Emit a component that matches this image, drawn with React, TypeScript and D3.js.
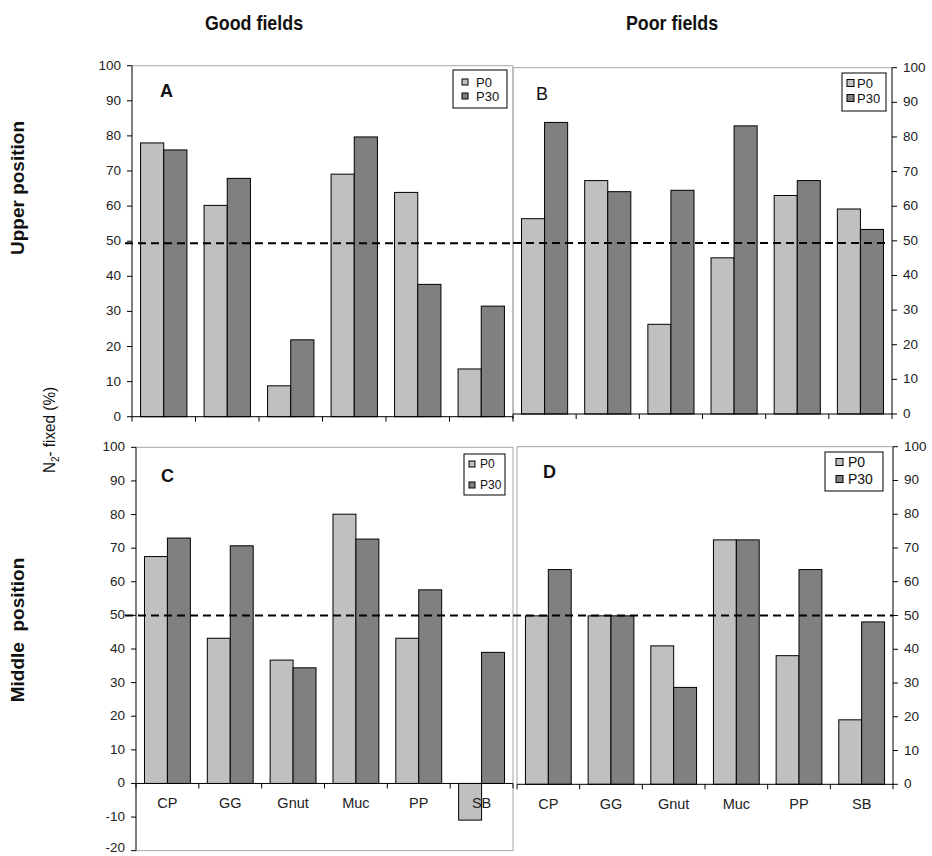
import React from "react";
import * as d3 from "d3";

const categories = ["CP", "GG", "Gnut", "Muc", "PP", "SB"];
const seriesNames = ["P0", "P30"];

const aP0 = [78, 60.2, 8.8, 69.1, 63.9, 13.6];
const aP30 = [76, 67.9, 21.9, 79.7, 37.7, 31.5];
const bP0 = [56.4, 67.4, 25.9, 45.1, 63.1, 59.2];
const bP30 = [84.2, 64.2, 64.6, 83.2, 67.4, 53.3];
const cP0 = [67.5, 43.2, 36.7, 80.1, 43.2, -10.9];
const cP30 = [73, 70.7, 34.4, 72.7, 57.6, 39];
const dP0 = [49.9, 49.9, 41, 72.4, 38.1, 19.1];
const dP30 = [63.6, 49.9, 28.7, 72.4, 63.6, 48.1];

const ticksPositive = [0, 10, 20, 30, 40, 50, 60, 70, 80, 90, 100];
const ticksWithNegative = [-20, -10, 0, 10, 20, 30, 40, 50, 60, 70, 80, 90, 100];
const thresholdUpper = 49.4;
const thresholdMiddle = 50;

const columnTitles = ["Good fields", "Poor fields"];
const rowTitles = ["Upper position", "Middle  position"];

const colors: Record<string, string> = { P0: "#c0c0c0", P30: "#808080" };
const FONT = "'Liberation Sans', Arial, Helvetica, sans-serif";
const PAGE_H = 856;

type PanelCfg = {
  letter: string;
  letterBold: boolean;
  p0: number[];
  p30: number[];
  ticks: number[];
  threshold: number;
  x0: number;
  x1: number;
  yTop: number;
  yBottom: number;
  axis: "left" | "right";
  showLabels: boolean;
  letterPos: [number, number];
  legend: { x: number; y: number; w: number; h: number; rows: number[]; fs: number; sqX: number; sq: number; tx: number };
  frame: { top: boolean; left: boolean; right: boolean; bottom: boolean };
  dashFrom: number;
  dashTo: number;
};

const panels: PanelCfg[] = [
  {
    letter: "A", letterBold: true, p0: aP0, p30: aP30, ticks: ticksPositive, threshold: thresholdUpper,
    x0: 132, x1: 513, yTop: 65.7, yBottom: 416.7, axis: "left", showLabels: false, letterPos: [160, 97],
    legend: { x: 453, y: 70, w: 54, h: 38, rows: [82, 96], fs: 13, sqX: 462, sq: 6, tx: 476 },
    frame: { top: true, left: false, right: true, bottom: false }, dashFrom: 125, dashTo: 513,
  },
  {
    letter: "B", letterBold: false, p0: bP0, p30: bP30, ticks: ticksPositive, threshold: thresholdUpper,
    x0: 513, x1: 892, yTop: 67.7, yBottom: 414, axis: "right", showLabels: false, letterPos: [536, 100],
    legend: { x: 842, y: 73, w: 44, h: 38, rows: [83, 98], fs: 13, sqX: 847, sq: 7, tx: 857 },
    frame: { top: true, left: true, right: false, bottom: false }, dashFrom: 513, dashTo: 890,
  },
  {
    letter: "C", letterBold: true, p0: cP0, p30: cP30, ticks: ticksWithNegative, threshold: thresholdMiddle,
    x0: 136, x1: 513, yTop: 447.3, yBottom: 850.7, axis: "left", showLabels: true, letterPos: [161, 482],
    legend: { x: 464, y: 454, w: 41, h: 41, rows: [464, 485], fs: 12, sqX: 469, sq: 6, tx: 480 },
    frame: { top: true, left: false, right: true, bottom: true }, dashFrom: 125, dashTo: 513,
  },
  {
    letter: "D", letterBold: true, p0: dP0, p30: dP30, ticks: ticksPositive, threshold: thresholdMiddle,
    x0: 517, x1: 893, yTop: 446.7, yBottom: 784.3, axis: "right", showLabels: true, letterPos: [543, 478],
    legend: { x: 825, y: 452, w: 58, h: 39, rows: [462, 479], fs: 14, sqX: 836, sq: 7, tx: 848 },
    frame: { top: true, left: true, right: false, bottom: false }, dashFrom: 513, dashTo: 893,
  },
];

function Panel({ cfg }: { cfg: PanelCfg }) {
  const yMin = d3.min(cfg.ticks) as number;
  const yMax = d3.max(cfg.ticks) as number;
  const y = d3.scaleLinear().domain([yMin, yMax]).range([cfg.yBottom, cfg.yTop]);
  const x = d3.scaleBand<string>().domain(categories).range([cfg.x0, cfg.x1]).paddingInner(0.27).paddingOuter(0.135);
  const xs = d3.scaleBand<string>().domain(seriesNames).range([0, x.bandwidth()]);
  const step = x.step();
  const y0 = y(0);
  const series = [cfg.p0, cfg.p30];
  const axisX = cfg.axis === "left" ? cfg.x0 : cfg.x1;
  const tickDir = cfg.axis === "left" ? -1 : 1;
  const frameColor = "#a6a6a6";
  return (
    <g>
      {cfg.frame.top && <line x1={cfg.x0} x2={cfg.x1} y1={cfg.yTop} y2={cfg.yTop} stroke={frameColor} strokeWidth={1} />}
      {cfg.frame.left && <line x1={cfg.x0} x2={cfg.x0} y1={cfg.yTop} y2={cfg.yBottom} stroke={frameColor} strokeWidth={1} />}
      {cfg.frame.right && <line x1={cfg.x1} x2={cfg.x1} y1={cfg.yTop} y2={cfg.yBottom} stroke={frameColor} strokeWidth={1} />}
      {cfg.frame.bottom && <line x1={cfg.x0} x2={cfg.x1} y1={cfg.yBottom} y2={cfg.yBottom} stroke={frameColor} strokeWidth={1} />}
      {categories.map((c, i) =>
        seriesNames.map((s, j) => {
          const v = series[j][i];
          const yy = y(Math.max(0, v));
          const h = Math.abs(y(v) - y0);
          return (
            <rect key={c + s} x={(x(c) as number) + (xs(s) as number)} y={yy} width={xs.bandwidth()} height={h}
              fill={colors[s]} stroke="#000" strokeWidth={1} />
          );
        })
      )}
      {cfg.showLabels && categories.map((c) => (
        <text key={c} x={(x(c) as number) + x.bandwidth() / 2} y={y0 + 25} textAnchor="middle" fontSize={14.5}
          fontFamily={FONT} fill="#222">{c}</text>
      ))}
      <line x1={cfg.x0} x2={cfg.x1} y1={y0} y2={y0} stroke="#000" strokeWidth={1} />
      {d3.range(categories.length + 1).map((i) => (
        <line key={i} x1={cfg.x0 + i * step} x2={cfg.x0 + i * step} y1={y0} y2={y0 + 5} stroke="#000" strokeWidth={1} />
      ))}
      <line x1={axisX} x2={axisX} y1={cfg.yBottom} y2={cfg.yTop} stroke="#000" strokeWidth={1} />
      {cfg.ticks.map((t) => (
        <g key={t}>
          <line x1={axisX} x2={axisX + tickDir * 5} y1={y(t)} y2={y(t)} stroke="#000" strokeWidth={1} />
          <text x={axisX + tickDir * 11} y={Math.min(y(t) + 4, PAGE_H - 4)} textAnchor={cfg.axis === "left" ? "end" : "start"}
            fontSize={13.5} fontFamily={FONT} fill="#222">{t}</text>
        </g>
      ))}
      <line x1={cfg.dashFrom} x2={cfg.dashTo} y1={y(cfg.threshold)} y2={y(cfg.threshold)} stroke="#000"
        strokeWidth={2} strokeDasharray="8,5" />
      <text x={cfg.letterPos[0]} y={cfg.letterPos[1]} fontSize={18} fontWeight={cfg.letterBold ? "bold" : "normal"}
        fontFamily={FONT} fill="#111">{cfg.letter}</text>
      <rect x={cfg.legend.x} y={cfg.legend.y} width={cfg.legend.w} height={cfg.legend.h} fill="#fff" stroke="#000" strokeWidth={1} />
      {seriesNames.map((s, j) => (
        <g key={s}>
          <rect x={cfg.legend.sqX} y={cfg.legend.rows[j] - cfg.legend.sq / 2} width={cfg.legend.sq} height={cfg.legend.sq}
            fill={colors[s]} stroke="#000" strokeWidth={1} />
          <text x={cfg.legend.tx} y={cfg.legend.rows[j] + cfg.legend.fs * 0.36} fontSize={cfg.legend.fs}
            fontFamily={FONT} fill="#111">{s}</text>
        </g>
      ))}
    </g>
  );
}

export default function App() {
  return (
    <svg width={932} height={856} style={{ position: "absolute", left: 0, top: 0, background: "#fff" }}>
      <rect x={0} y={0} width={932} height={856} fill="#fff" />
      <text transform="translate(254,30) scale(0.85,1)" textAnchor="middle" fontSize={21} fontWeight="bold" fontFamily={FONT} fill="#111">{columnTitles[0]}</text>
      <text transform="translate(672,30) scale(0.85,1)" textAnchor="middle" fontSize={21} fontWeight="bold" fontFamily={FONT} fill="#111">{columnTitles[1]}</text>
      <text transform="translate(24,188) rotate(-90)" textAnchor="middle" fontSize={19} fontWeight="bold" fontFamily={FONT}
        fill="#111" style={{ whiteSpace: "pre" }}>{rowTitles[0]}</text>
      <text transform="translate(24,630) rotate(-90)" textAnchor="middle" fontSize={19} fontWeight="bold" fontFamily={FONT}
        fill="#111" style={{ whiteSpace: "pre" }}>{rowTitles[1]}</text>
      <text transform="translate(55,430) rotate(-90) scale(0.9,1)" textAnchor="middle" fontSize={17} fontFamily={FONT} fill="#111">
        N<tspan fontSize={11} dy={4}>2</tspan><tspan dy={-4}>- fixed (%)</tspan>
      </text>
      {panels.map((p) => <Panel key={p.letter} cfg={p} />)}
    </svg>
  );
}
